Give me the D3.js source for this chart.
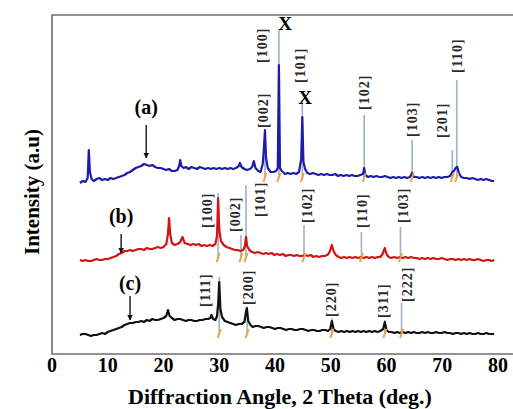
<!DOCTYPE html>
<html>
<head>
<meta charset="utf-8">
<script src="https://cdn.jsdelivr.net/npm/d3@7/dist/d3.min.js"></script>
<style>
  html, body { margin: 0; padding: 0; background: #fff; }
  svg { display: block; }
</style>
</head>
<body>
<div id="chart"></div>
<script>
// 2 theta (deg) vs intensity (a.u., stacked offsets)
var seriesA = [
  [5.0,171],[5.5,173],[6.0,172],[6.4,176],[6.6,204],[6.8,182],[7.1,175],[7.5,173],[8.0,175],[8.5,176],
  [9.0,174],[9.5,175],[10,174],[10.5,176],[11,175],[11.5,176],[12,177],[12.5,178],[13,179],[13.5,181],
  [14,182],[14.5,184],[15,186],[15.5,187],[16,188],[16.5,190],[17,189],[17.5,188],[18,189],[18.5,187],
  [19,186],[19.5,186],[20,185],[20.5,184],[21,185],[21.5,183],[22,183],[22.5,184],[22.8,188],[23.0,194],
  [23.2,188],[23.6,186],[24,187],[24.5,185],[25,187],[25.5,186],[26,185],[26.5,187],[27,186],[27.5,185],
  [28,186],[28.5,185],[29,186],[29.5,185],[30,186],[30.5,185],[31,186],[31.5,185],[32,186],[32.5,185],
  [33,186],[33.5,188],[33.7,191],[34.0,187],[34.5,185],[35,184],[35.5,185],[35.9,187],[36.2,193],[36.5,186],
  [37.0,183],[37.4,182],[37.8,190],[38.0,205],[38.2,224],[38.4,196],[38.7,186],[39.2,182],[39.7,182],[40.2,183],
  [40.5,186],[40.7,289],[40.9,186],[41.2,183],[41.8,180],[42.3,181],[42.8,180],[43.3,181],[43.8,180],[44.3,182],
  [44.7,195],[44.9,237],[45.1,192],[45.4,185],[45.8,181],[46.3,180],[46.8,181],[47.3,180],[47.8,179],[48.3,180],
  [48.8,179],[49.3,180],[49.8,179],[50.3,179],[50.8,180],[51.3,178],[51.8,179],[52.3,178],[52.8,179],[53.3,178],
  [53.8,179],[54.3,178],[54.8,178],[55.3,179],[55.8,180],[56.0,186],[56.2,179],[56.7,177],[57.2,178],[57.7,177],
  [58.2,178],[58.7,177],[59.2,177],[59.7,178],[60.2,177],[60.7,176],[61.2,177],[61.7,176],[62.2,177],[62.7,176],
  [63.2,177],[63.7,176],[64.2,177],[64.6,181],[64.9,177],[65.4,177],[65.9,176],[66.4,177],[66.9,176],[67.4,177],
  [67.9,176],[68.4,177],[68.9,176],[69.4,177],[69.9,176],[70.4,177],[70.9,177],[71.4,178],[71.8,182],[72.1,183],
  [72.4,186],[72.7,187],[73.0,181],[73.4,177],[73.9,176],[74.4,176],[74.9,175],[75.4,176],[75.9,175],[76.4,174],
  [76.9,175],[77.4,174],[77.9,175],[78.4,174],[78.9,173],[79.3,173]
];
var seriesB = [
  [5,94],[5.5,93],[6,94],[6.5,93],[7,93],[7.5,94],[8,95],[8.5,94],[9,94],[9.5,95],
  [10,95],[10.5,96],[11,97],[11.5,98],[12,100],[12.5,101],[13,103],[13.5,103],[14,104],[14.5,103],
  [15,104],[15.5,105],[16,105],[16.5,104],[17,106],[17.5,105],[18,105],[18.5,106],[19,107],[19.5,106],
  [20,107],[20.5,110],[20.8,120],[21.0,136],[21.2,120],[21.5,111],[22,109],[22.5,110],[23,112],[23.4,117],
  [23.8,111],[24.3,110],[24.8,109],[25.3,110],[25.8,109],[26.3,110],[26.8,108],[27.3,109],[27.8,108],[28.3,109],
  [28.8,108],[29.3,110],[29.6,118],[29.8,156],[30.0,125],[30.3,113],[30.8,109],[31.3,107],[31.8,106],[32.3,105],
  [32.8,104],[33.3,104],[33.8,103],[34.3,104],[34.6,108],[34.8,117],[35.0,108],[35.4,104],[35.9,102],[36.4,101],
  [36.9,102],[37.4,101],[37.9,100],[38.4,101],[38.9,100],[39.4,101],[39.9,99],[40.4,100],[40.9,99],[41.4,100],
  [41.9,98],[42.4,99],[42.9,99],[43.4,98],[43.9,99],[44.4,98],[44.9,98],[45.4,99],[45.9,98],[46.4,99],
  [46.9,97],[47.4,98],[47.9,97],[48.4,98],[48.9,98],[49.4,99],[49.8,102],[50.2,109],[50.5,103],[50.9,99],
  [51.4,97],[51.9,96],[52.4,97],[52.9,96],[53.4,97],[53.9,96],[54.4,97],[54.9,96],[55.4,97],[55.9,96],
  [56.4,97],[56.9,96],[57.4,97],[57.9,96],[58.4,97],[58.9,97],[59.3,100],[59.7,106],[60.0,100],[60.4,97],
  [60.9,96],[61.4,97],[61.9,96],[62.4,97],[62.9,96],[63.4,97],[63.9,96],[64.4,97],[64.9,96],[65.4,96],
  [65.9,95],[66.4,96],[66.9,95],[67.4,96],[67.9,95],[68.4,96],[68.9,95],[69.4,95],[69.9,96],[70.4,95],
  [70.9,94],[71.4,95],[71.9,95],[72.4,94],[72.9,95],[73.4,94],[73.9,95],[74.4,94],[74.9,95],[75.4,94],
  [75.9,94],[76.4,95],[76.9,94],[77.4,93],[77.9,94],[78.4,94],[78.9,93],[79.3,94]
];
var seriesC = [
  [5,19],[5.5,20],[6,20],[6.5,19],[7,18],[7.5,19],[8,19],[8.5,20],[9,21],[9.5,20],
  [10,22],[10.5,23],[11,24],[11.5,25],[12,26],[12.5,27],[13,29],[13.5,30],[14,31],[14.5,31],
  [15,32],[15.5,32],[16,33],[16.5,32],[17,34],[17.5,33],[18,35],[18.5,34],[19,34],[19.5,35],
  [20,36],[20.5,38],[20.8,44],[21.1,38],[21.5,36],[22,34],[22.5,35],[23,35],[23.5,34],[24,33],
  [24.5,34],[25,34],[25.5,33],[26,33],[26.5,34],[27,34],[27.5,35],[28,35],[28.4,36],[28.6,39],
  [28.9,35],[29.3,34],[29.6,38],[29.8,50],[30.0,72],[30.2,45],[30.5,37],[31,33],[31.5,32],[32,31],
  [32.5,30],[33,29],[33.5,30],[34,30],[34.5,32],[34.8,42],[34.95,46],[35.2,33],[35.6,29],[36,27],
  [36.5,28],[37,28],[37.5,27],[38,26],[38.5,27],[39,27],[39.5,26],[40,25],[40.5,26],[41,26],
  [41.5,25],[42,24],[42.5,25],[43,25],[43.5,24],[44,24],[44.5,25],[45,25],[45.5,24],[46,23],
  [46.5,24],[47,24],[47.5,23],[48,23],[48.5,24],[49,24],[49.5,23],[49.9,25],[50.2,33],[50.5,25],
  [50.9,23],[51.4,22],[51.9,23],[52.4,22],[52.9,23],[53.4,22],[53.9,23],[54.4,22],[54.9,23],[55.4,22],
  [55.9,23],[56.4,22],[56.9,23],[57.4,22],[57.9,23],[58.4,22],[58.9,23],[59.4,25],[59.7,32],[60.0,24],
  [60.4,22],[60.9,22],[61.4,21],[61.9,22],[62.4,21],[62.9,22],[63.4,21],[63.9,22],[64.4,21],[64.9,22],
  [65.4,21],[65.9,21],[66.4,22],[66.9,21],[67.4,22],[67.9,21],[68.4,21],[68.9,22],[69.4,21],[69.9,21],
  [70.4,22],[70.9,21],[71.4,21],[71.9,20],[72.4,21],[72.9,21],[73.4,20],[73.9,21],[74.4,20],[74.9,21],
  [75.4,20],[75.9,20],[76.4,21],[76.9,20],[77.4,20],[77.9,21],[78.4,20],[78.9,20],[79.3,20]
];

// reflections: [hkl, angle, line top, label angle, label bottom]
var refsA = [
  ["[002]",38.2,222,37.85,226],["[100]",40.7,324,37.67,291],["[101]",44.9,254,44.48,271],
  ["[102]",56.0,239,55.96,244],["[103]",64.6,214,64.57,217],["[201]",71.8,204,69.96,216],
  ["[110]",72.6,274,72.65,281]
];
var refsB = [
  ["[100]",29.8,161,27.8,126],["[002]",33.9,119,32.8,122],["[101]",34.8,169,37.3,137],
  ["[102]",45.2,129,45.7,131],["[110]",55.5,122,55.6,126],["[103]",62.5,127,63.0,131]
];
var refsC = [
  ["[111]",30.0,77,27.4,47],["[200]",35.0,47,35.2,49],["[220]",50.2,36,50.0,37],
  ["[311]",59.7,34,59.4,36],["[222]",62.7,51,63.7,52]
];
var refBase = [176, 96, 20];

var sampleNames = ["(a)", "(b)", "(c)"];
// [label angle, label value, arrow top, arrow tip]
var sampleMarks = [[16.9,247,229,196],[12.4,138,120,101],[14.0,71,58,34]];
var xMarks = [[41.8,331],[45.4,257]];

var xTicks = [0,10,20,30,40,50,60,70,80];

var width = 513, height = 409;
var svg = d3.select("#chart").append("svg")
  .attr("width", width).attr("height", height);

var x = d3.scaleLinear().domain([0, 80]).range([52, 498]);
var y = d3.scaleLinear().domain([0, 340]).range([354, 14]);

var serif = "'Liberation Serif', 'Times New Roman', serif";

// frame (right side is cut off in the figure)
svg.append("path")
  .attr("d", "M" + (width + 2) + ",15H52V354H" + (width + 2))
  .attr("fill", "none").attr("stroke", "#6e6e6e").attr("stroke-width", 1.6);

var allRefs = [refsA, refsB, refsC];
var colors = ["#1c1ca6", "#d41414", "#111111"];
var series = [seriesA, seriesB, seriesC];

// reference lines
allRefs.forEach(function(refs, i) {
  svg.selectAll(".ref" + i).data(refs).enter().append("line")
    .attr("x1", function(d) { return x(d[1]); })
    .attr("x2", function(d) { return x(d[1]); })
    .attr("y1", function(d) { return y(d[2]); })
    .attr("y2", y(refBase[i]))
    .attr("stroke", "#9fb1c4").attr("stroke-width", 1.6);
});

var line = d3.line()
  .x(function(d) { return x(d[0]); })
  .y(function(d) { return y(d[1]); });

series.forEach(function(s, i) {
  svg.append("path").datum(s)
    .attr("d", line)
    .attr("fill", "none")
    .attr("stroke", colors[i])
    .attr("stroke-width", 2.2)
    .attr("stroke-linejoin", "round");
});

// orange markers at reference positions
allRefs.forEach(function(refs, i) {
  svg.selectAll(".mk" + i).data(refs).enter().append("line")
    .attr("x1", function(d) { return x(d[1]) - 1.5; })
    .attr("x2", function(d) { return x(d[1]) + 1.5; })
    .attr("y1", y(refBase[i]) + 4)
    .attr("y2", y(refBase[i]) - 5)
    .attr("stroke", "#e8a640").attr("stroke-width", 2);
});

// hkl labels
allRefs.forEach(function(refs, i) {
  svg.selectAll(".lb" + i).data(refs).enter().append("text")
    .attr("transform", function(d) {
      return "translate(" + x(d[3]) + "," + y(d[4]) + ") rotate(-90)";
    })
    .attr("dy", "0.35em")
    .attr("font-family", serif)
    .attr("font-weight", "bold")
    .attr("font-size", 14)
    .attr("letter-spacing", 1)
    .attr("fill", "#2a2a2a")
    .text(function(d) { return d[0]; });
});

svg.selectAll(".xm").data(xMarks).enter().append("text")
  .attr("x", function(d) { return x(d[0]); })
  .attr("y", function(d) { return y(d[1]); })
  .attr("text-anchor", "middle")
  .attr("dy", "0.35em")
  .attr("font-family", serif)
  .attr("font-weight", "bold")
  .attr("font-size", 19)
  .text("X");

// sample labels and arrows
var defs = svg.append("defs");
defs.append("marker")
  .attr("id", "head").attr("viewBox", "0 0 10 10")
  .attr("refX", 9).attr("refY", 5)
  .attr("markerWidth", 4).attr("markerHeight", 4)
  .attr("orient", "auto")
  .append("path").attr("d", "M0,0L10,5L0,10Z").attr("fill", "#111");

sampleMarks.forEach(function(m, i) {
  svg.append("text")
    .attr("x", x(m[0])).attr("y", y(m[1]))
    .attr("text-anchor", "middle").attr("dy", "0.35em")
    .attr("font-family", serif).attr("font-weight", "bold")
    .attr("font-size", 20)
    .text(sampleNames[i]);
  svg.append("line")
    .attr("x1", x(m[0])).attr("x2", x(m[0]))
    .attr("y1", y(m[2])).attr("y2", y(m[3]))
    .attr("stroke", "#111").attr("stroke-width", 1.4)
    .attr("marker-end", "url(#head)");
});

// x axis labels
svg.selectAll(".tick").data(xTicks).enter().append("text")
  .attr("x", function(d) { return x(d); })
  .attr("y", 372)
  .attr("text-anchor", "middle")
  .attr("font-family", serif).attr("font-weight", "bold")
  .attr("font-size", 20)
  .text(function(d) { return d; });

svg.append("text")
  .attr("x", 280).attr("y", 404)
  .attr("text-anchor", "middle")
  .attr("font-family", serif).attr("font-weight", "bold")
  .attr("font-size", 22)
  .text("Diffraction Angle, 2 Theta (deg.)");

svg.append("text")
  .attr("transform", "translate(32,192) rotate(-90)")
  .attr("text-anchor", "middle").attr("dy", "0.35em")
  .attr("font-family", serif).attr("font-weight", "bold")
  .attr("font-size", 21)
  .text("Intensity (a.u)");
</script>
</body>
</html>
